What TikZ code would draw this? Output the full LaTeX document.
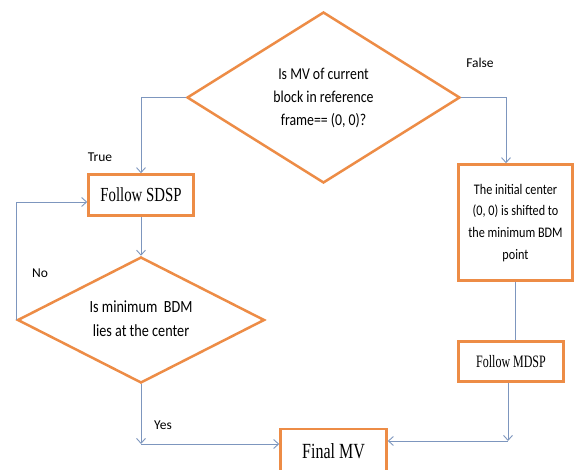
\documentclass[tikz,border=0pt]{standalone}
\usepackage{fontspec}
\newfontfamily\calfont{Carlito}
\newfontfamily\tmsfont{Liberation Serif}
\usetikzlibrary{shapes.geometric,arrows.meta,calc}
\definecolor{boxorange}{RGB}{237,140,70}
\definecolor{arrowblue}{RGB}{125,150,190}
\newcommand{\vstr}[2]{\scalebox{1}[#1]{#2}}
\begin{document}
\begin{tikzpicture}[x=1pt,y=-1pt,
  dec/.style={diamond,draw=boxorange,line width=2.5pt,inner sep=0pt,align=center},
  proc/.style={rectangle,draw=boxorange,line width=2.5pt,inner sep=0pt,align=center,fill=white},
  arr/.style={draw=arrowblue,line width=0.9pt,-{Straight Barb[length=5pt,width=9pt]}},
  ln/.style={draw=arrowblue,line width=0.9pt},
  lbl/.style={font=\calfont\fontsize{13.5}{15}\selectfont,inner sep=0pt}]
\clip (0,0) rectangle (579,470);
\fill[white] (0,0) rectangle (579,470);

% decisions
\node[dec,aspect=1.6,minimum width=273pt,minimum height=171pt] (d1) at (323.5,97.5)
  {\vstr{1.2}{\calfont\fontsize{13.8}{19.2}\selectfont\begin{tabular}{@{}c@{}}Is MV of current\\block in reference\\frame== (0, 0)?\end{tabular}}};
\node[dec,aspect=1.96,minimum width=247pt,minimum height=126pt] (d2) at (141,320)
  {\vstr{1.2}{\calfont\fontsize{14.2}{20}\selectfont\begin{tabular}{@{}c@{}}Is minimum\ \ BDM\\lies at the center\end{tabular}}};

% processes
\node[proc,minimum width=105pt,minimum height=41pt] (sdsp) at (141,195)
  {\vstr{1.35}{\tmsfont\fontsize{14.8}{16}\selectfont Follow SDSP}};
\node[proc,minimum width=114pt,minimum height=116pt] (rbox) at (515.5,222.5)
  {\vstr{1.2}{\calfont\fontsize{12.2}{18.1}\selectfont\begin{tabular}{@{}c@{}}The initial center\\(0, 0) is shifted to\\the minimum BDM\\point\end{tabular}}};
\node[proc,minimum width=105pt,minimum height=40pt] (mdsp) at (511,361.5)
  {\vstr{1.45}{\tmsfont\fontsize{12}{14}\selectfont Follow MDSP}};
\node[proc,minimum width=106pt,minimum height=44pt] (final) at (333.5,451)
  {\vstr{1.35}{\tmsfont\fontsize{16}{18}\selectfont Final MV}};

% labels
\node[lbl] (ltrue) at (100,157) {True};
\node[lbl] (lfalse) at (480,63) {False};
\node[lbl] (lno) at (40,273) {No};
\node[lbl] (lyes) at (163,425) {Yes};

% connectors
\draw[arr] (d1.west) -| (sdsp.north);
\draw[arr] (sdsp.south) -- (d2.north);
\coordinate (lp) at ($(sdsp.west)+(0,7)$);
\draw[arr] (d2.west) |- (lp);
\draw[arr] (d1.east) -| ($(rbox.north)+(-9.5,0)$);
\draw[ln] (rbox.south) -- (rbox.south |- mdsp.north);
\coordinate (rc) at (508,441);
\draw[arr] ($(mdsp.south)+(-3,0)$) -- (rc);
\draw[arr] (rc) -- (rc -| final.east);
\coordinate (lc) at (141,444);
\draw[arr] (d2.south) -- (lc);
\draw[arr] (lc) -- (lc -| final.west);
\end{tikzpicture}
\end{document}
